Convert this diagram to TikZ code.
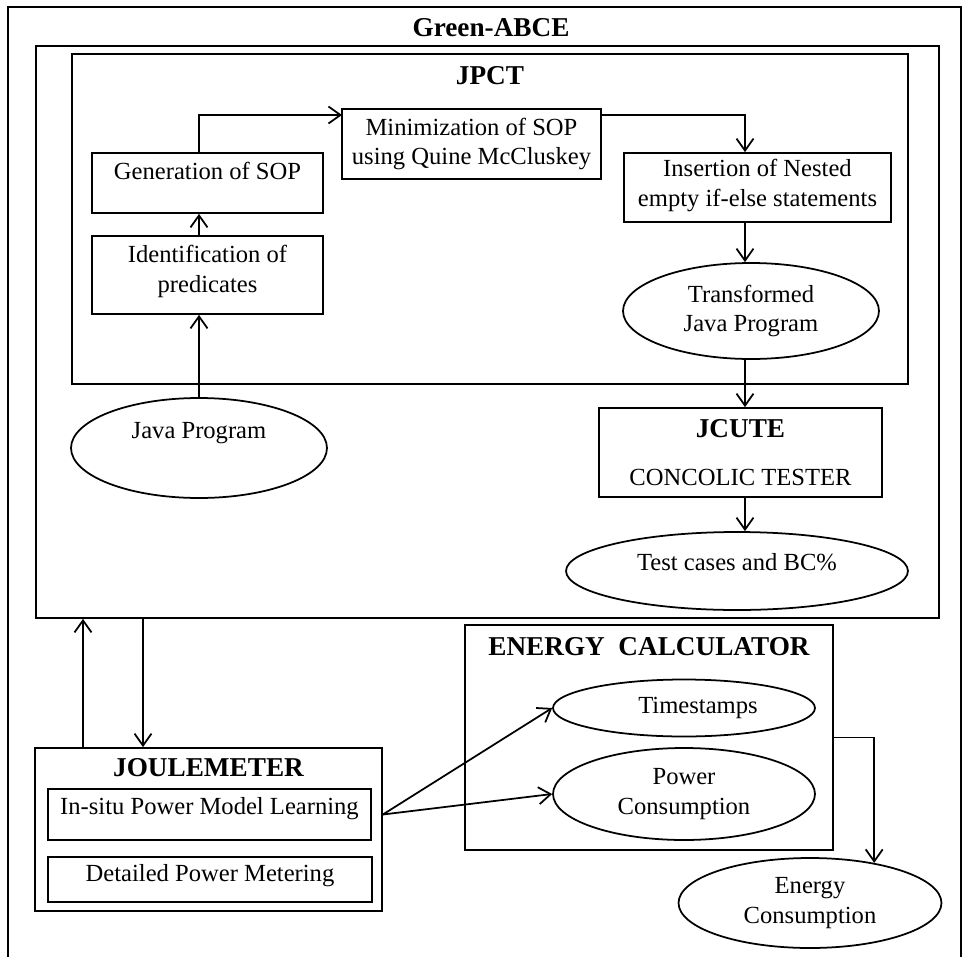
\documentclass[tikz,border=0pt]{standalone}
\usepackage{fontspec}
\setmainfont{Liberation Serif}
\usetikzlibrary{arrows.meta,shapes.geometric,fit}

\begin{document}
\begin{tikzpicture}[x=0.02cm,y=-0.02cm,font=\fontsize{14}{17}\selectfont]

	\tikzstyle box=[draw, line width=1pt, inner sep=0pt, align=center];
	\tikzstyle oval=[draw, ellipse, line width=1pt, inner sep=0pt, align=center];
	\tikzstyle heading=[font=\fontsize{15.5}{18}\selectfont\bfseries];
	\tikzstyle every label=[align=center];
	\tikzstyle flow lines=[line width=1pt, -{Straight Barb[length=2.4mm,width=3.4mm]}];

	\useasboundingbox (0,0) rectangle (971,957);

	% outer frame
	\draw[line width=1pt] (8,957) -- (8,7) -- (961,7) -- (961,957);
	\node[heading] (green) at (491,28) {Green-ABCE};

	\node[box, fit={(36,46) (939,618)}] (abce) {};
	\node[box, fit={(72,54) (908,384)}, label={[heading, anchor=north, yshift=-4pt]north:JPCT}] (jpct) {};

	% JPCT steps
	\node[box, fit={(92,153) (323,213)}, label={[anchor=north, yshift=-2pt]north:Generation of SOP}] (gen) {};
	\node[box, fit={(92,236) (323,314)}, label={[yshift=2pt]center:Identification of\\predicates}] (ident) {};
	\node[box, fit={(342,109) (601,179)}, label={center:Minimization of SOP\\using Quine McCluskey}] (minim) {};
	\node[box, fit={(624,153) (891,222)}, label={[yshift=1pt]center:Insertion of Nested\\empty if-else statements}] (insert) {};
	\node[oval, minimum width=5.12cm, minimum height=1.92cm] (transf) at (751,311) {Transformed\\Java Program};

	\node[oval, minimum width=5.12cm, minimum height=2cm, label={[yshift=0.3cm]center:Java Program}] (java) at (199,448) {};

	\node[box, fit={(599,408) (882,497)}, label={center:{\textbf{\fontsize{15.5}{18}\selectfont JCUTE}\\[10pt]CONCOLIC TESTER}}] (jcute) {};
	\node[oval, minimum width=6.84cm, minimum height=1.56cm, label={[yshift=0.18cm]center:Test cases and BC\%}] (test) at (737,571) {};

	% joulemeter
	\node[box, fit={(35,748) (382,911)}, label={[heading, anchor=north, yshift=-3pt]north:JOULEMETER}] (joule) {};
	\node[box, fit={(48,789) (371,840)}, label={[anchor=north, yshift=-2pt]north:In-situ Power Model Learning}] (insitu) {};
	\node[box, fit={(48,857) (372,902)}, label={[yshift=2pt]center:Detailed Power Metering}] (detail) {};

	% energy calculator
	\node[box, fit={(465,625) (833,850)}, label={[heading, anchor=north, yshift=-4pt]north:ENERGY\ \ CALCULATOR}] (energy) {};
	\node[oval, minimum width=5.24cm, minimum height=1.14cm, label={[xshift=0.28cm]center:Timestamps}] (times) at (684,708) {};
	\node[oval, minimum width=5.24cm, minimum height=1.84cm] (power) at (684,794) {Power\\Consumption};
	\node[oval, minimum width=5.26cm, minimum height=1.8cm] (econs) at (810,903) {Energy\\Consumption};

	\coordinate (col) at (745,0);
	\coordinate (m-in) at (342,115);
	\coordinate (m-out) at (601,115);
	\coordinate (up) at (83,0);
	\coordinate (down) at (143,0);

	\draw[flow lines] (java.north) -- (java.north |- ident.south);
	\draw[flow lines] (java.north |- ident.north) -- (java.north |- gen.south);
	\draw[flow lines] (java.north |- gen.north) |- (m-in);
	\draw[flow lines] (m-out) -| (col |- insert.north);
	\draw[flow lines] (col |- insert.south) -- (col |- transf.north);
	\draw[flow lines] (col |- transf.south) -- (col |- jcute.north);
	\draw[flow lines] (col |- jcute.south) -- (col |- test.north);

	\draw[flow lines] (up |- joule.north) -- (up |- abce.south);
	\draw[flow lines] (down |- abce.south) -- (down |- joule.north);
	\draw[flow lines] (joule.east |- insitu.east) -- (times.west);
	\draw[flow lines] (joule.east |- insitu.east) -- (power.west);
	\draw[flow lines] (energy.east |- times.south) -| (econs.32);

\end{tikzpicture}
\end{document}
